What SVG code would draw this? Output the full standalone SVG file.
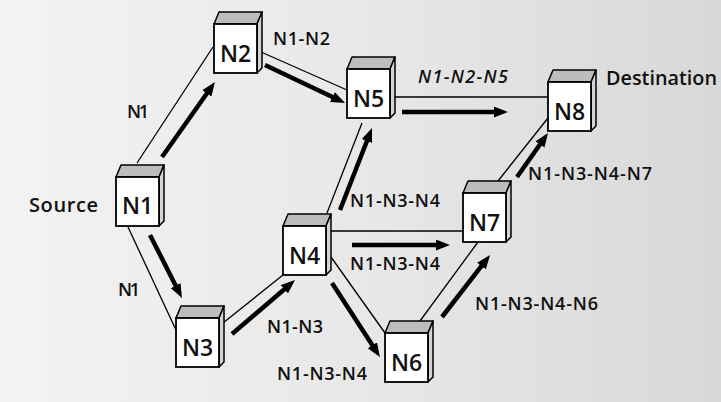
<svg xmlns="http://www.w3.org/2000/svg" width="721" height="402" viewBox="0 0 721 402">
<defs>
<linearGradient id="bg" x1="0" y1="0" x2="1" y2="0">
<stop offset="0" stop-color="#f3f3f3"/>
<stop offset="0.5" stop-color="#e8e8e8"/>
<stop offset="1" stop-color="#d8d8d8"/>
</linearGradient>
<marker id="ah" viewBox="0 0 14 11" markerWidth="14" markerHeight="11" refX="3" refY="5.5" orient="auto" markerUnits="userSpaceOnUse">
<path d="M0,0 L14,5.5 L0,11 Z" fill="#000"/>
</marker>
<g id="cube">
<polygon points="0,0 5,-12 48,-12 43,0" fill="#bdbdbd" stroke="#000" stroke-width="1.5" stroke-linejoin="round"/>
<polygon points="43,0 48,-12 48,44 43,49" fill="#d4d4d4" stroke="#000" stroke-width="1.5" stroke-linejoin="round"/>
<rect x="0" y="0" width="43" height="49" fill="#fff" stroke="#000" stroke-width="1.8"/>
</g>
</defs>
<style>
.thin{stroke:#000;stroke-width:1.3;fill:none}
.arr{stroke:#000;stroke-width:4.5;fill:none;marker-end:url(#ah)}
.lbl{font-family:"Open Sans","Noto Sans","Liberation Sans",sans-serif;font-size:18px;font-weight:600;fill:#111}
.nl{font-family:"Open Sans","Noto Sans","Liberation Sans",sans-serif;font-size:23px;font-weight:600;fill:#111;text-anchor:middle}
</style>
<rect x="0" y="0" width="721" height="402" fill="url(#bg)"/>
<g id="connectors">
<line class="thin" x1="137" y1="163" x2="213" y2="47"/>
<line class="thin" x1="261" y1="52" x2="347" y2="90"/>
<line class="thin" x1="393" y1="97" x2="548" y2="97"/>
<line class="thin" x1="128" y1="227" x2="176" y2="330"/>
<line class="thin" x1="223" y1="323" x2="283" y2="275"/>
<line class="thin" x1="327" y1="213" x2="362" y2="123"/>
<line class="thin" x1="331" y1="231" x2="463" y2="231"/>
<line class="thin" x1="331" y1="257" x2="385" y2="333"/>
<line class="thin" x1="420" y1="321" x2="478" y2="242"/>
<line class="thin" x1="498" y1="181" x2="548" y2="118"/>
<line class="arr" x1="162" y1="157" x2="208.6" y2="91"/>
<line class="arr" x1="265" y1="65" x2="335.1" y2="98.3"/>
<line class="arr" x1="402" y1="112" x2="497" y2="112"/>
<line class="arr" x1="150" y1="235" x2="177" y2="288.2"/>
<line class="arr" x1="232" y1="334" x2="286.7" y2="287.2"/>
<line class="arr" x1="340" y1="210" x2="368" y2="138.3"/>
<line class="arr" x1="352" y1="245" x2="439" y2="245"/>
<line class="arr" x1="332" y1="283" x2="374" y2="347.8"/>
<line class="arr" x1="442" y1="317" x2="483.3" y2="263.7"/>
<line class="arr" x1="517" y1="177" x2="541.7" y2="142"/>
</g>
<g id="N1"><use href="#cube" x="116" y="177"/><text class="nl" x="137.5" y="214">N1</text></g>
<g id="N2"><use href="#cube" x="214" y="24"/><text class="nl" x="235.5" y="62">N2</text></g>
<g id="N3"><use href="#cube" x="176" y="318"/><text class="nl" x="197.5" y="356">N3</text></g>
<g id="N4"><use href="#cube" x="283" y="226"/><text class="nl" x="304.5" y="264">N4</text></g>
<g id="N5"><use href="#cube" x="347" y="69"/><text class="nl" x="368.5" y="107">N5</text></g>
<g id="N6"><use href="#cube" x="385" y="333"/><text class="nl" x="406.5" y="371">N6</text></g>
<g id="N7"><use href="#cube" x="463" y="193"/><text class="nl" x="484.5" y="231">N7</text></g>
<g id="N8"><use href="#cube" x="548" y="82"/><text class="nl" x="569.5" y="120">N8</text></g>
<g id="labels">
<text class="lbl" x="127" y="118" textLength="22">N1</text>
<text class="lbl" x="118" y="296" textLength="22">N1</text>
<text class="lbl" x="29" y="212" style="font-size:20px" textLength="69">Source</text>
<text class="lbl" x="273" y="45" textLength="57">N1-N2</text>
<text class="lbl" x="418" y="83" style="font-style:italic" textLength="90">N1-N2-N5</text>
<text class="lbl" x="606" y="85" style="font-size:19px" textLength="111" lengthAdjust="spacingAndGlyphs">Destination</text>
<text class="lbl" x="350" y="207" textLength="90">N1-N3-N4</text>
<text class="lbl" x="350" y="270" textLength="90">N1-N3-N4</text>
<text class="lbl" x="528" y="180" textLength="124">N1-N3-N4-N7</text>
<text class="lbl" x="267" y="333" textLength="56">N1-N3</text>
<text class="lbl" x="277" y="380" textLength="90">N1-N3-N4</text>
<text class="lbl" x="475" y="310" textLength="123">N1-N3-N4-N6</text>
</g>
</svg>
